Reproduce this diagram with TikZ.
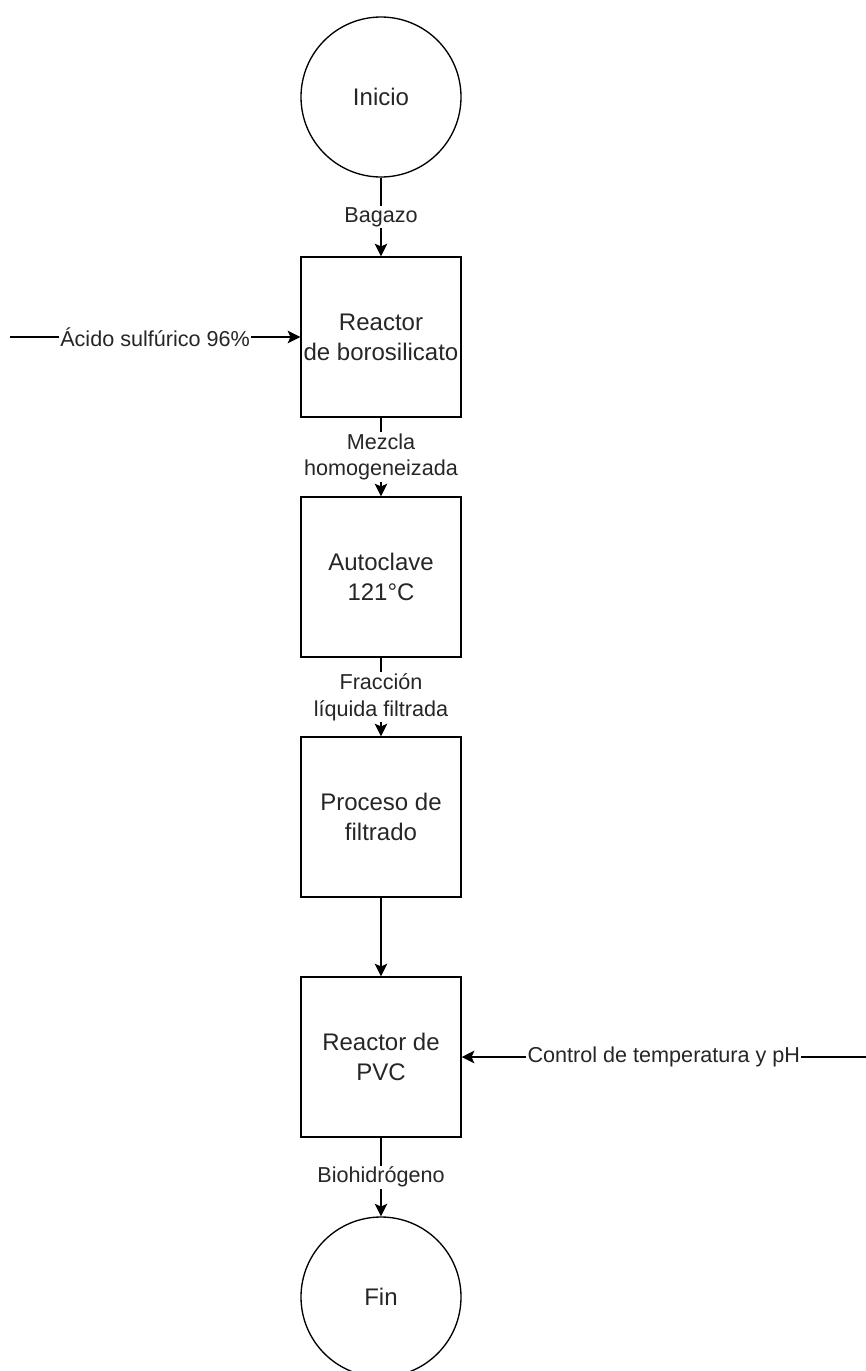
\documentclass[tikz,border=0pt]{standalone}
\usepackage{fontspec}
\setmainfont{Liberation Sans}
\usetikzlibrary{arrows.meta}
\begin{document}
\begin{tikzpicture}[x=0.75pt,y=-0.75pt,
  every node/.style={text=black!85},
  circ/.style={draw=black,circle,line width=1pt,minimum size=120pt,inner sep=0pt,font=\fontsize{18}{22.5}\selectfont},
  proc/.style={draw=black,rectangle,line width=1.1pt,minimum width=120pt,minimum height=120pt,inner sep=0pt,align=center,font=\fontsize{18}{22.5}\selectfont},
  arr/.style={draw=black,line width=1pt,-{Stealth[length=9.5pt,width=9.5pt,inset=2.2pt]}},
  lbl/.style={fill=white,inner sep=1pt,align=center,font=\fontsize{16.2}{20}\selectfont}]
\useasboundingbox (0,0) rectangle (866,1371);
\node[circ] (ini) at (381,97) {Inicio};
\node[proc] (r1) at (381,337) {Reactor\\de borosilicato};
\node[proc] (au) at (381,577) {Autoclave\\121°C};
\node[proc] (fi) at (381,817) {Proceso de\\filtrado};
\node[proc] (r2) at (381,1057) {Reactor de\\PVC};
\node[circ] (fin) at (381,1297) {Fin};
\coordinate (acin) at (10,337);
\coordinate (ctin) at (866,1057);
\draw[arr] (ini) -- (r1) node[lbl,midway] {Bagazo};
\draw[arr] (r1) -- (au) node[lbl,midway] {Mezcla\\homogeneizada};
\draw[arr] (au) -- (fi) node[lbl,midway] {Fracción\\líquida filtrada};
\draw[arr] (fi) -- (r2);
\draw[arr] (r2) -- (fin) node[lbl,midway] {Biohidrógeno};
\draw[arr] (acin) -- (r1.west) node[lbl,midway] {Ácido sulfúrico 96\%};
\draw[arr] (ctin) -- (r2.east) node[lbl,midway] {Control de temperatura y pH};
\end{tikzpicture}
\end{document}
